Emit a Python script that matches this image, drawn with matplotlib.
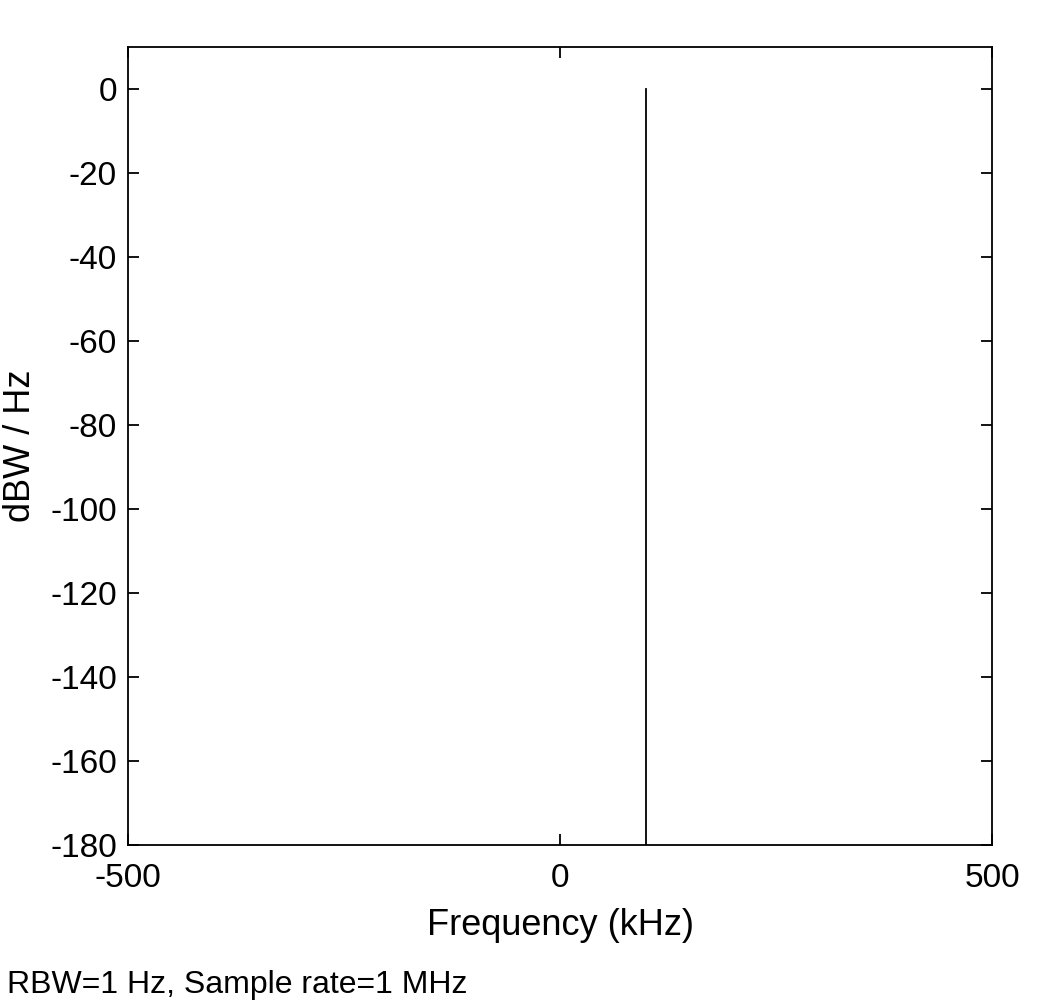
import matplotlib
matplotlib.use("Agg")
import matplotlib.pyplot as plt

plt.rcParams["font.family"] = ["Liberation Sans", "DejaVu Sans"]
plt.rcParams["axes.unicode_minus"] = False

# spectrum: single tone at 100 kHz
freq_khz = [100, 100]
power_db = [-180, 0]
x_ticks = [-500, 0, 500]
y_ticks = [0, -20, -40, -60, -80, -100, -120, -140, -160, -180]

fig = plt.figure(figsize=(10.41, 10.01), dpi=100)
ax = fig.add_axes([0.123, 0.156, 0.830, 0.797])

ax.plot(freq_khz, power_db, color="black", linewidth=1.3)

ax.set_xlim(-500, 500)
ax.set_ylim(-180, 10)
ax.set_xticks(x_ticks)
ax.set_yticks(y_ticks)
ax.tick_params(direction="in", length=8, width=1.3, top=True, right=True,
               labelsize=24)
ax.tick_params(axis="x", pad=13)
ax.tick_params(axis="y", pad=8)
for s in ax.spines.values():
    s.set_linewidth(1.3)

ax.set_xlabel("Frequency (kHz)", fontsize=26, labelpad=10)
ax.set_ylabel("dBW / Hz", fontsize=26, labelpad=9)

fig.text(0.007, 0.008, "RBW=1 Hz, Sample rate=1 MHz", fontsize=23)

fig.savefig("out.png", dpi=100)
